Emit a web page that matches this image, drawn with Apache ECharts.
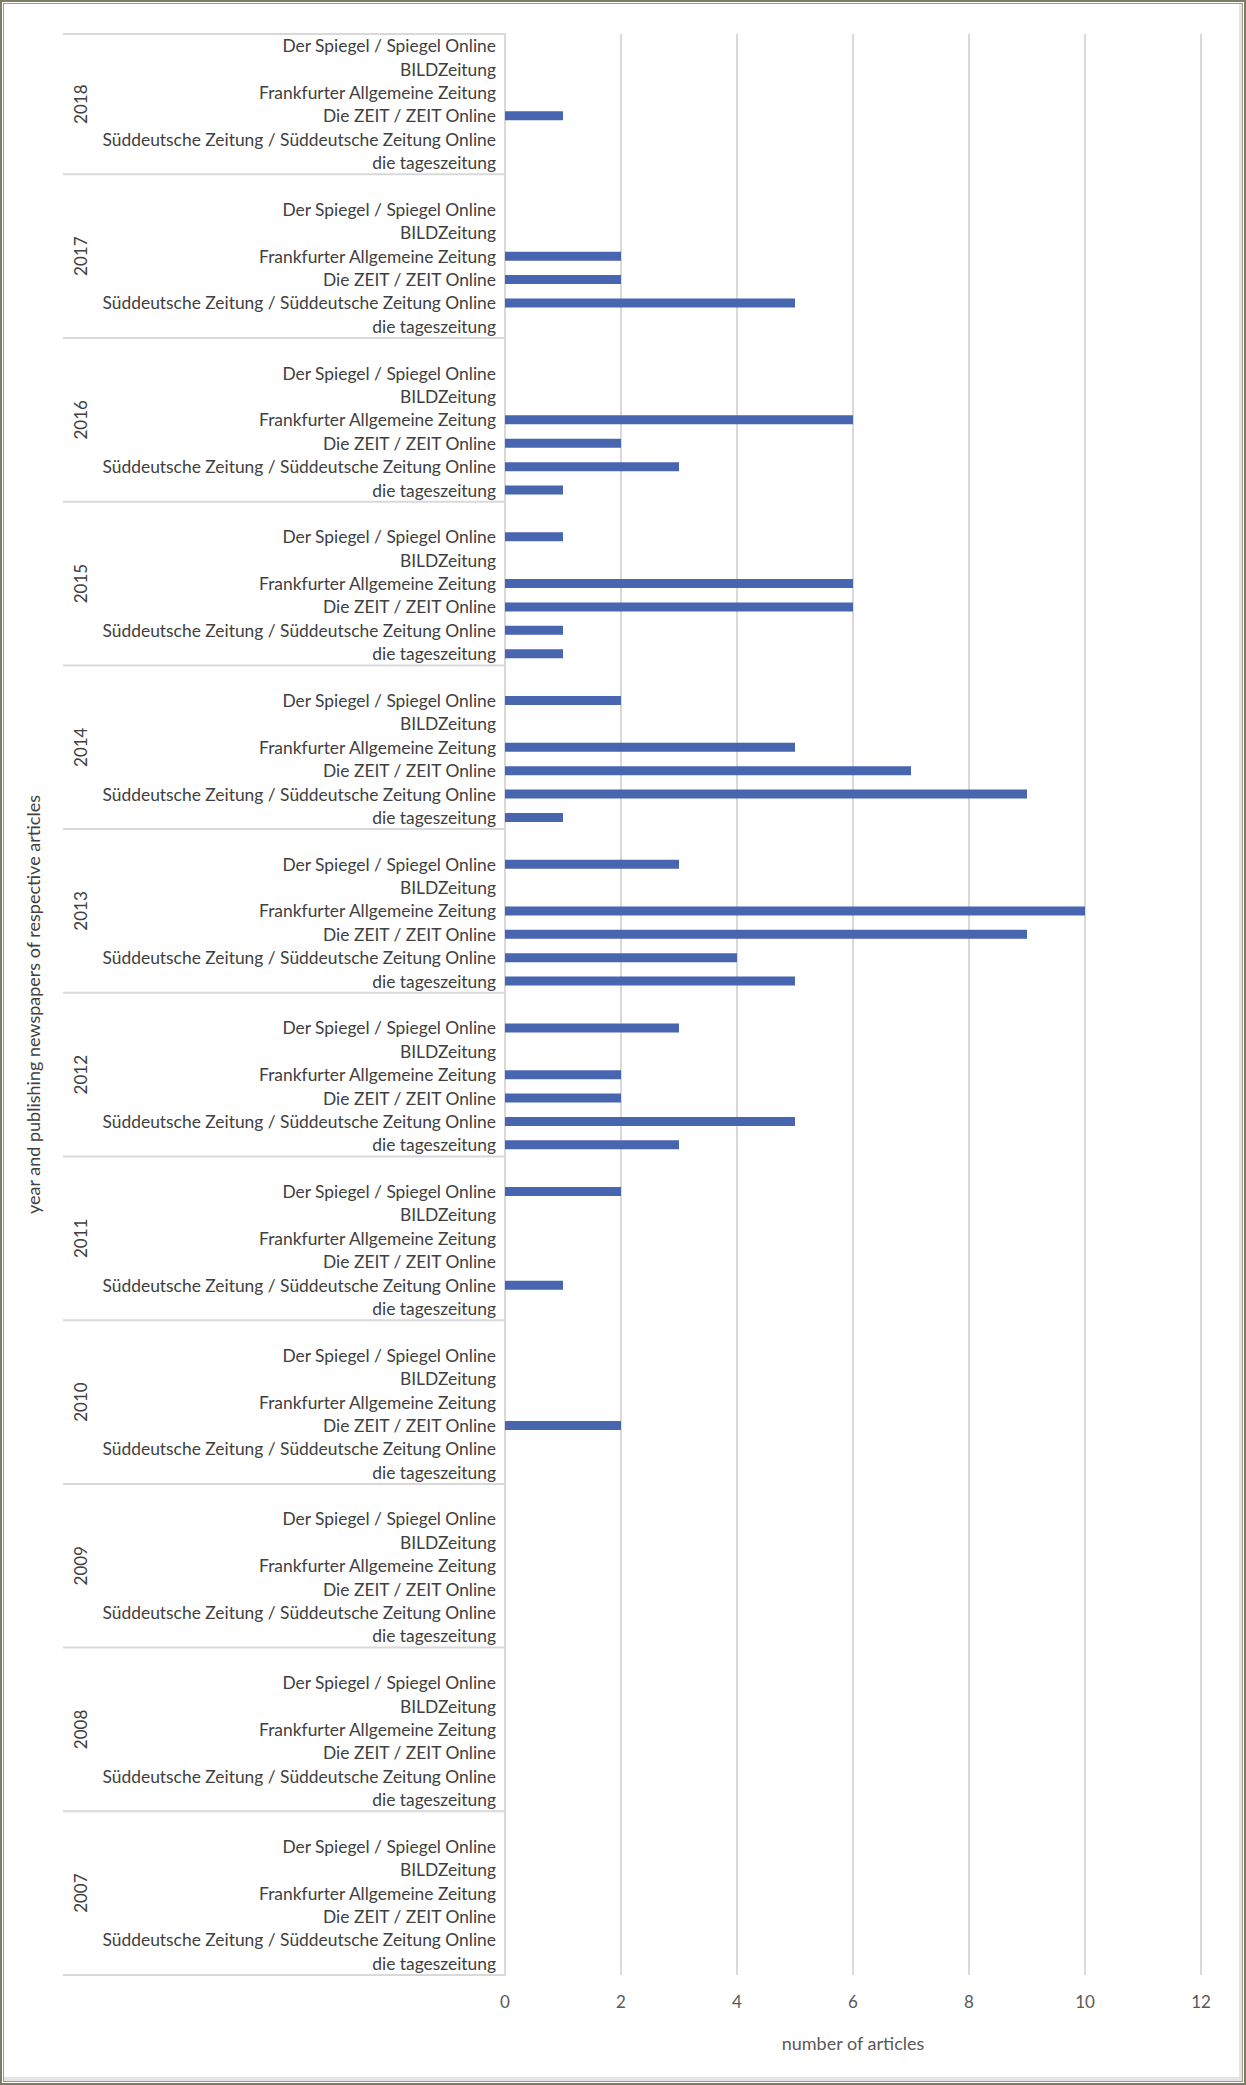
<!DOCTYPE html>
<html>
<head>
<meta charset="utf-8">
<script src="https://cdn.jsdelivr.net/npm/echarts@6/dist/echarts.min.js"></script>
<style>
  html, body { margin: 0; padding: 0; background: #ffffff; }
  #chart { position: absolute; left: 0; top: 0; width: 1246px; height: 2085px; }
  #frame {
    position: absolute; left: 0; top: 0; width: 1246px; height: 2085px;
    box-sizing: border-box; pointer-events: none;
    border: 2px solid #7c7c64;
    box-shadow: inset 0 0 0 1px #ffffff, inset 0 0 0 2px #9a9a86, inset -3px -4px 0 2px #e4e4e4;
  }
</style>
</head>
<body>
<div id="chart"></div>
<div id="frame"></div>
<script>
// ---- data ----
const years = ['2018', '2017', '2016', '2015', '2014', '2013', '2012', '2011', '2010', '2009', '2008', '2007'];
const papers = [
  'Der Spiegel / Spiegel Online',
  'BILDZeitung',
  'Frankfurter Allgemeine Zeitung',
  'Die ZEIT / ZEIT Online',
  'Süddeutsche Zeitung / Süddeutsche Zeitung Online',
  'die tageszeitung'
];
// values per newspaper, in the order of `years`
const spiegel = [0, 0, 0, 1, 2, 3, 3, 2, 0, 0, 0, 0];
const bild    = [0, 0, 0, 0, 0, 0, 0, 0, 0, 0, 0, 0];
const faz     = [0, 2, 6, 6, 5, 10, 2, 0, 0, 0, 0, 0];
const zeit    = [1, 2, 2, 6, 7, 9, 2, 0, 2, 0, 0, 0];
const sz      = [0, 5, 3, 1, 9, 4, 5, 1, 0, 0, 0, 0];
const taz     = [0, 0, 1, 1, 1, 5, 3, 0, 0, 0, 0, 0];
const xTicks = [0, 2, 4, 6, 8, 10, 12];

const perPaper = [spiegel, bild, faz, zeit, sz, taz];

// build category slots: every year group after the first starts with an empty spacer slot
const catKeys = [];
const values = [];
const groups = [];
years.forEach((y, yi) => {
  const first = catKeys.length;
  if (yi > 0) { catKeys.push(y + '|'); values.push('-'); }
  papers.forEach((p, pi) => { catKeys.push(y + '|' + p); values.push(perPaper[pi][yi]); });
  groups.push({ year: y, first: catKeys[first], last: catKeys[catKeys.length - 1] });
});

const FONT = 'Lato, "Open Sans", "Liberation Sans", sans-serif';
const chart = echarts.init(document.getElementById('chart'), null, { renderer: 'svg', width: 1246, height: 2085 });

const option = {
  animation: false,
  backgroundColor: '#ffffff',
  grid: { left: 505, right: 45, top: 34, bottom: 110, containLabel: false },
  xAxis: {
    type: 'value', min: xTicks[0], max: xTicks[xTicks.length - 1], interval: 2,
    axisLine: { show: false }, axisTick: { show: false },
    axisLabel: { color: '#595959', fontSize: 17, fontFamily: FONT, margin: 18 },
    splitLine: { show: true, lineStyle: { color: '#d9d9d9', width: 2 } },
    name: 'number of articles', nameLocation: 'middle', nameGap: 59,
    nameTextStyle: { color: '#595959', fontSize: 18, fontFamily: FONT }
  },
  yAxis: {
    type: 'category', data: catKeys, inverse: true,
    axisLine: { show: true, lineStyle: { color: '#d9d9d9', width: 2 } },
    axisTick: { show: false },
    axisLabel: {
      interval: 0, color: '#404040', fontSize: 17.4, fontFamily: FONT, margin: 9,
      formatter: v => v.split('|')[1]
    },
    splitLine: { show: false },
    name: 'year and publishing newspapers of respective articles',
    nameLocation: 'middle', nameGap: 463,
    nameTextStyle: { color: '#404040', fontSize: 18, fontFamily: FONT }
  },
  series: [{
    type: 'bar', data: values, barWidth: 9,
    itemStyle: { color: '#4865b0' },
    silent: true
  }]
};
chart.setOption(option);

// group separators and year labels, positioned through the axis scales
const axisX = chart.convertToPixel({ xAxisIndex: 0 }, 0);
const c0 = chart.convertToPixel({ yAxisIndex: 0 }, catKeys[0]);
const c1 = chart.convertToPixel({ yAxisIndex: 0 }, catKeys[1]);
const band = c1 - c0;
const graphics = [];
groups.forEach((g, i) => {
  const top = chart.convertToPixel({ yAxisIndex: 0 }, g.first) - band / 2;
  const bottom = chart.convertToPixel({ yAxisIndex: 0 }, g.last) + band / 2;
  graphics.push({
    type: 'line', silent: true,
    shape: { x1: 63, y1: top, x2: axisX, y2: top },
    style: { stroke: '#d9d9d9', lineWidth: 2 }
  });
  if (i === groups.length - 1) {
    graphics.push({
      type: 'line', silent: true,
      shape: { x1: 63, y1: bottom, x2: axisX, y2: bottom },
      style: { stroke: '#d9d9d9', lineWidth: 2 }
    });
  }
  graphics.push({
    type: 'text', silent: true,
    x: 80, y: (top + bottom) / 2, rotation: Math.PI / 2,
    style: { text: g.year, fill: '#404040', font: '17px ' + FONT, align: 'center', verticalAlign: 'middle' }
  });
});
chart.setOption({ graphic: graphics });
</script>
</body>
</html>
